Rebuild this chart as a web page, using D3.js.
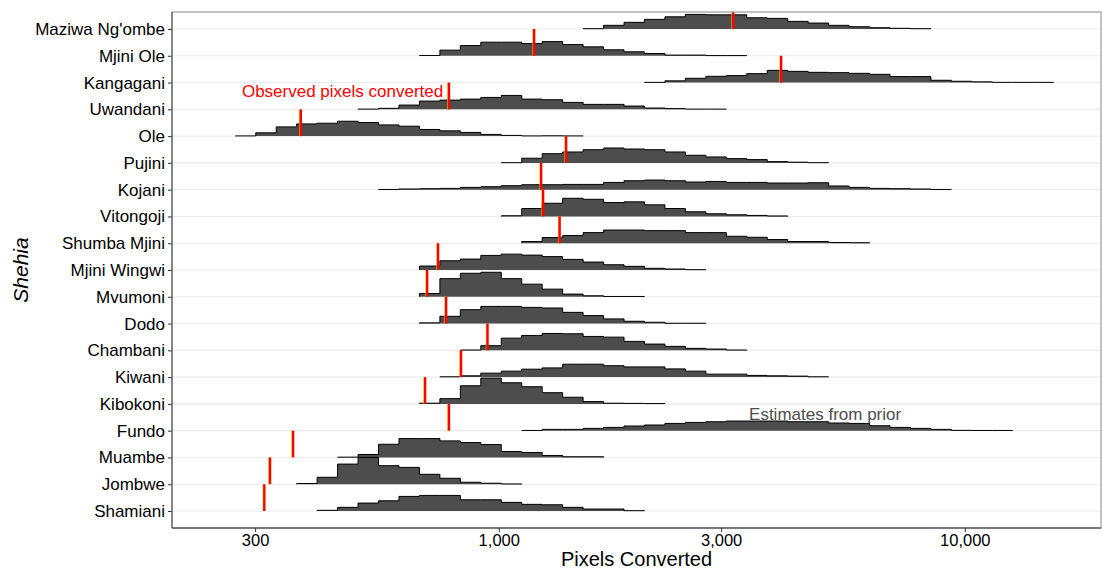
<!DOCTYPE html>
<html>
<head>
<meta charset="utf-8">
<script src="https://d3js.org/d3.v7.min.js"></script>
<style>
body { margin: 0; background: #fff; }
svg { display: block; font-family: Arial, "Liberation Sans", sans-serif; }
</style>
</head>
<body>
<div id="chart"></div>
<script>
// shehia, top to bottom as drawn
let shehia = ["Maziwa Ng'ombe", "Mjini Ole", "Kangagani", "Uwandani", "Ole", "Pujini", "Kojani",
  "Vitongoji", "Shumba Mjini", "Mjini Wingwi", "Mvumoni", "Dodo", "Chambani", "Kiwani",
  "Kibokoni", "Fundo", "Muambe", "Jombwe", "Shamiani"];

// observed pixels converted (red marks)
let observed = [3184, 1191, 4036, 782, 376, 1395, 1233, 1245, 1351, 741, 702, 771, 946, 830, 695, 782, 362, 323, 314];

// prior estimates: histogram on a shared log10 bin grid
let binOrigin = 1517;     // lower edge of bin 0
let binWidth = 0.0439;    // log10 units
let firstBin = [0, -8, 3, -11, -17, -4, -10, -4, -3, -8, -8, -8, -6, -7, -8, -3, -12, -14, -13];
let counts = [
  [3, 37, 67, 97, 123, 147, 143, 143, 113, 107, 77, 60, 37, 23, 13, 7, 3],
  [3, 57, 103, 137, 137, 123, 143, 113, 90, 60, 40, 23, 7, 7, 2, 2],
  [2, 17, 43, 63, 70, 90, 123, 113, 103, 100, 93, 83, 60, 60, 23, 13, 7, 2, 2, 2],
  [2, 10, 43, 83, 93, 103, 120, 140, 103, 97, 70, 50, 50, 33, 13, 7, 2, 2],
  [2, 33, 93, 123, 130, 150, 137, 113, 100, 67, 53, 37, 17, 7, 2, 3, 2],
  [2, 47, 93, 110, 133, 150, 140, 133, 110, 77, 60, 43, 33, 13, 7, 2],
  [2, 7, 10, 13, 23, 30, 40, 50, 50, 53, 53, 73, 90, 97, 90, 77, 83, 73, 73, 67, 67, 70, 37, 23, 13, 10, 7, 2],
  [7, 80, 133, 183, 173, 140, 147, 117, 80, 47, 27, 17, 10, 5],
  [17, 57, 77, 107, 133, 133, 127, 127, 107, 107, 70, 60, 37, 17, 17, 7, 5],
  [40, 93, 110, 147, 160, 150, 135, 107, 80, 53, 37, 17, 10, 3],
  [33, 183, 237, 247, 183, 127, 77, 27, 10, 3, 3],
  [7, 73, 140, 173, 173, 163, 157, 113, 80, 47, 23, 13, 3, 3],
  [3, 47, 123, 150, 170, 167, 140, 133, 90, 63, 40, 20, 13, 3],
  [3, 13, 40, 60, 80, 93, 130, 130, 115, 103, 103, 83, 60, 30, 30, 17, 13, 10, 3],
  [7, 53, 183, 260, 213, 173, 113, 67, 23, 7, 5, 3],
  [2, 13, 13, 23, 33, 47, 57, 73, 83, 90, 97, 97, 97, 90, 90, 77, 73, 50, 33, 23, 13, 3, 2, 2],
  [3, 30, 133, 190, 190, 167, 150, 130, 60, 50, 20, 7, 7],
  [7, 70, 203, 270, 187, 170, 100, 60, 20, 10, 3],
  [7, 37, 80, 103, 147, 157, 157, 113, 113, 87, 67, 63, 37, 20, 20, 3]
];
let xTicks = [300, 1000, 3000, 10000];

let W = 1102, H = 571;
let panel = { left: 172, right: 1101, top: 12, bottom: 528 };

let svg = d3.select('#chart').append('svg')
  .attr('width', W).attr('height', H)
  .style('background', 'white');

let x = d3.scaleLog().domain([199, 19600]).range([panel.left, panel.right]);
let y = d3.scalePoint().domain(shehia).range([29, 511]);
let rowStep = y.step();
let h = d3.scaleLinear().domain([0, d3.max(counts.flat())]).range([0, rowStep]);

svg.append('clipPath').attr('id', 'clip')
  .append('rect')
  .attr('x', panel.left).attr('y', panel.top)
  .attr('width', panel.right - panel.left).attr('height', panel.bottom - panel.top);

// grid lines
svg.append('g').selectAll('line')
  .data(shehia).join('line')
  .attr('x1', panel.left).attr('x2', panel.right)
  .attr('y1', d => y(d)).attr('y2', d => y(d))
  .attr('stroke', '#ebebeb').attr('stroke-width', 1.1);

let plot = svg.append('g').attr('clip-path', 'url(#clip)');

function ridgePoints(i) {
  let k0 = firstBin[i];
  let c = counts[i];
  let edge = j => binOrigin * Math.pow(10, (k0 + j) * binWidth);
  let pts = [{ v: edge(0), c: 0 }];
  c.forEach((n, j) => pts.push({ v: edge(j), c: n }));
  pts.push({ v: edge(c.length), c: 0 });
  return pts;
}

shehia.forEach((name, i) => {
  let base = y(name);
  let pts = ridgePoints(i);
  let area = d3.area().curve(d3.curveStepAfter)
    .x(d => x(d.v)).y0(base).y1(d => base - h(d.c));
  let line = d3.line().curve(d3.curveStepAfter)
    .x(d => x(d.v)).y(d => base - h(d.c));
  plot.append('path').attr('d', area(pts))
    .attr('fill', '#4d4d4d').attr('stroke', 'none');
  plot.append('path').attr('d', line(pts))
    .attr('fill', 'none').attr('stroke', 'black').attr('stroke-width', 1);
});

// observed marks
plot.append('g').selectAll('line')
  .data(shehia).join('line')
  .attr('x1', (d, i) => x(observed[i]) - 1.2).attr('x2', (d, i) => x(observed[i]) - 1.2)
  .attr('y1', d => y(d)).attr('y2', d => y(d) - rowStep)
  .attr('stroke', '#f2c200').attr('stroke-width', 1);
plot.append('g').selectAll('line.obs')
  .data(shehia).join('line')
  .attr('class', 'obs')
  .attr('x1', (d, i) => x(observed[i])).attr('x2', (d, i) => x(observed[i]))
  .attr('y1', d => y(d)).attr('y2', d => y(d) - rowStep)
  .attr('stroke', '#ff0000').attr('stroke-width', 2.4);

// annotations
svg.append('text')
  .attr('x', x(760)).attr('y', y('Uwandani') - 0.7 * rowStep)
  .attr('dy', '0.35em').attr('text-anchor', 'end')
  .attr('fill', '#ff0000').style('font-size', '17px')
  .text('Observed pixels converted');
svg.append('text')
  .attr('x', x(5015)).attr('y', y('Fundo') - 0.63 * rowStep)
  .attr('dy', '0.35em').attr('text-anchor', 'middle')
  .attr('fill', '#4d4d4d').style('font-size', '17px')
  .text('Estimates from prior');

// panel border
svg.append('rect')
  .attr('x', panel.left).attr('y', panel.top)
  .attr('width', panel.right - panel.left).attr('height', panel.bottom - panel.top)
  .attr('fill', 'none').attr('stroke', '#888').attr('stroke-width', 1);

// axes
let xAxis = svg.append('g')
  .attr('transform', 'translate(0,' + panel.bottom + ')')
  .call(d3.axisBottom(x).tickValues(xTicks).tickFormat(d3.format(',')).tickSize(4).tickPadding(2));
let yAxis = svg.append('g')
  .attr('transform', 'translate(' + panel.left + ',0)')
  .call(d3.axisLeft(y).tickSize(4).tickPadding(3));

[xAxis, yAxis].forEach(a => {
  a.select('.domain').remove();
  a.selectAll('.tick line').attr('stroke', '#333');
  a.selectAll('.tick text').attr('fill', 'black')
    .style('font-size', '17px').style('font-family', 'Arial, "Liberation Sans", sans-serif');
});
xAxis.selectAll('.tick text').style('font-size', '16.5px');

svg.append('line')
  .attr('x1', panel.left).attr('x2', panel.right)
  .attr('y1', panel.bottom).attr('y2', panel.bottom)
  .attr('stroke', '#333').attr('stroke-width', 1.1);
svg.append('line')
  .attr('x1', panel.left).attr('x2', panel.left)
  .attr('y1', panel.top).attr('y2', panel.bottom)
  .attr('stroke', '#555').attr('stroke-width', 1.1);

// titles
svg.append('text')
  .attr('x', (panel.left + panel.right) / 2).attr('y', 566)
  .attr('text-anchor', 'middle')
  .style('font-size', '20px').attr('fill', 'black')
  .text('Pixels Converted');
svg.append('text')
  .attr('transform', 'translate(21,270) rotate(-90)')
  .attr('dy', '0.35em').attr('text-anchor', 'middle')
  .style('font-size', '21px').style('font-style', 'italic').attr('fill', 'black')
  .text('Shehia');
</script>
</body>
</html>
